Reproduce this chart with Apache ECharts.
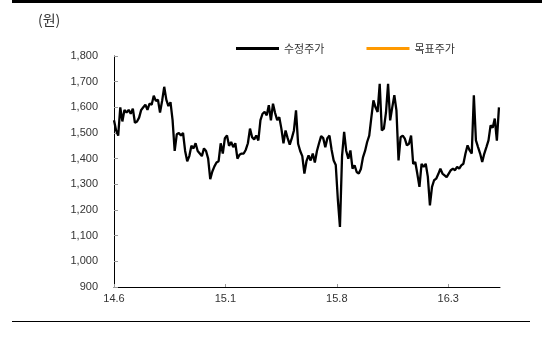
<!DOCTYPE html>
<html>
<head>
<meta charset="utf-8">
<script src="https://cdn.jsdelivr.net/npm/echarts@6/dist/echarts.min.js"></script>
<style>
html,body{margin:0;padding:0;background:#fff;}
#chart{width:542px;height:338px;}
</style>
</head>
<body>
<div id="chart"></div>
<script>
// 수정주가 (adjusted price), sampled every 4 calendar days from 2014-06-01
const stepDays = 4;
const axisDays = 738;      // 2014-06-01 .. 2016-06-08
const tickDays = 213;      // ~7 months between labels
const adjPrice = [
1550,1510,1490,1600,1545,1590,1580,1590,1575,1595,
1540,1545,1560,1590,1600,1610,1590,1615,1610,1645,
1625,1630,1580,1625,1680,1630,1605,1620,1550,1430,
1495,1500,1490,1500,1430,1390,1410,1450,1440,1460,
1430,1420,1410,1440,1430,1400,1320,1350,1370,1385,
1390,1460,1420,1480,1490,1450,1465,1445,1460,1400,
1415,1420,1420,1435,1460,1517,1484,1475,1490,1471,
1550,1575,1582,1569,1608,1549,1614,1578,1550,1562,
1517,1460,1510,1480,1455,1480,1510,1588,1458,1430,
1410,1342,1390,1413,1393,1420,1385,1430,1460,1488,
1480,1445,1480,1490,1435,1393,1375,1240,1134,1410,
1504,1430,1400,1432,1361,1374,1348,1342,1360,1405,
1430,1465,1490,1560,1627,1600,1582,1692,1510,1517,
1580,1692,1549,1600,1647,1588,1393,1484,1490,1478,
1452,1458,1490,1380,1387,1340,1290,1380,1368,1380,
1330,1218,1290,1316,1322,1340,1361,1342,1335,1328,
1342,1355,1361,1355,1368,1361,1374,1380,1420,1452,
1432,1420,1647,1471,1445,1420,1387,1420,1445,1471,
1530,1520,1556,1470,1600
];
// 목표주가 (target price): no values shown
const targetPrice = [];
const tickLabels = ['14.6','15.1','15.8','16.3'];

const adjData = adjPrice.map((v, i) => [i * stepDays, v]);

const chart = echarts.init(document.getElementById('chart'), null, {renderer:'canvas'});
const FONT = '"Liberation Sans", Arial, "Noto Sans CJK KR", sans-serif';
chart.setOption({
  animation: false,
  backgroundColor: '#fff',
  textStyle: {fontFamily: FONT},
  grid: {left: 114, right: 42, top: 56, bottom: 51, containLabel: false},
  legend: {
    data: ['수정주가', '목표주가'],
    left: 231, top: 38,
    icon: 'rect', itemWidth: 43, itemHeight: 3, itemGap: 42,
    textStyle: {fontSize: 11, color: '#333', fontFamily: '"Noto Sans CJK KR", sans-serif'}
  },
  xAxis: {
    type: 'value', min: 0, max: axisDays, interval: tickDays,
    axisLine: {lineStyle: {color: '#000', width: 1}},
    axisTick: {show: true, inside: true, length: 3, lineStyle: {color: '#999'}},
    axisLabel: {
      fontSize: 11, color: '#333', margin: 6, showMaxLabel: false,
      formatter: function (v) {
        const k = Math.round(v / tickDays);
        return tickLabels[k] || '';
      }
    },
    splitLine: {show: false}
  },
  yAxis: {
    type: 'value', min: 900, max: 1800, interval: 100,
    axisLine: {show: true, lineStyle: {color: '#000', width: 1}},
    axisTick: {show: true, inside: true, length: 4, lineStyle: {color: '#999'}},
    axisLabel: {fontSize: 11, color: '#333', margin: 16,
      formatter: v => v.toLocaleString('en-US')},
    splitLine: {show: false}
  },
  graphic: [
    {type: 'rect', shape: {x: 12, y: 0, width: 530, height: 3}, style: {fill: '#000'}},
    {type: 'rect', shape: {x: 12, y: 321, width: 518, height: 1}, style: {fill: '#000'}},
    {type: 'text', left: 38, top: 13, style: {text: '(원)', fontSize: 14, fill: '#333', fontFamily: '"Noto Sans CJK KR", sans-serif'}}
  ],
  series: [
    {name: '수정주가', type: 'line', data: adjData, showSymbol: false, symbol: 'none',
     lineStyle: {color: '#000', width: 2.3}, itemStyle: {color: '#000'}},
    {name: '목표주가', type: 'line', data: targetPrice, showSymbol: false, symbol: 'none',
     lineStyle: {color: '#FF9900', width: 2}, itemStyle: {color: '#FF9900'}}
  ]
});
</script>
</body>
</html>
